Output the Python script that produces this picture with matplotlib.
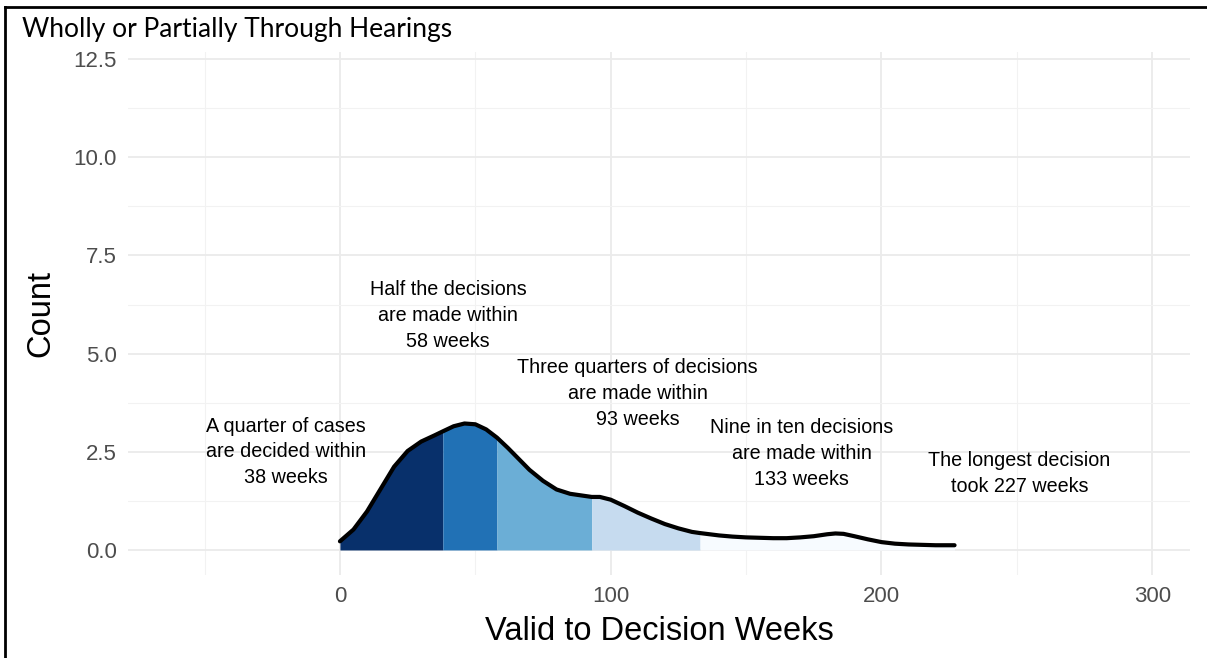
import numpy as np
import matplotlib
matplotlib.use("Agg")
import matplotlib.pyplot as plt
from matplotlib.lines import Line2D

plt.rcParams['font.family'] = ['Liberation Sans', 'DejaVu Sans']

# density curve (count scale)
weeks = [0, 5, 10, 15, 20, 25, 30, 35, 38, 42, 46, 50, 54, 58, 62, 66, 70, 75, 80, 85,
         90, 93, 96, 100, 105, 110, 115, 120, 125, 130, 133, 140, 145, 150, 155, 160,
         165, 170, 175, 180, 183, 186, 190, 195, 200, 205, 210, 215, 220, 227]
count = [0.22, 0.52, 0.98, 1.55, 2.12, 2.52, 2.76, 2.92, 3.02, 3.15, 3.22, 3.2, 3.07, 2.86,
         2.6, 2.32, 2.04, 1.76, 1.54, 1.43, 1.38, 1.35, 1.35, 1.28, 1.12, 0.95, 0.8, 0.66,
         0.55, 0.46, 0.43, 0.37, 0.34, 0.32, 0.31, 0.3, 0.3, 0.32, 0.35, 0.4, 0.42, 0.41,
         0.35, 0.27, 0.2, 0.16, 0.14, 0.13, 0.12, 0.12]

# quantile breaks (weeks)
breaks = [0, 38, 58, 93, 133, 227]
fill_colours = ['#08306B', '#2171B5', '#6BAED6', '#C6DBEF', '#F7FBFF']

labels = ["A quarter of cases\nare decided within\n38 weeks",
          "Half the decisions\nare made within\n58 weeks",
          "Three quarters of decisions\nare made within\n93 weeks",
          "Nine in ten decisions\nare made within\n133 weeks",
          "The longest decision\ntook 227 weeks"]
label_x = [-20, 40, 110, 170.5, 251]
label_y = [2.5, 5.97, 3.98, 2.45, 1.94]

x = np.array(weeks, dtype=float)
y = np.array(count, dtype=float)

fig = plt.figure(figsize=(12.07, 6.58), dpi=100)
ax = fig.add_axes([0.106, 0.126, 0.880, 0.795])

for i in range(len(fill_colours)):
    m = (x >= breaks[i]) & (x <= breaks[i + 1])
    ax.fill_between(x[m], 0, y[m], color=fill_colours[i], linewidth=0, zorder=2)

ax.plot(x, y, color='black', linewidth=3.0, solid_capstyle='round',
        solid_joinstyle='round', zorder=3)

for t, lx, ly in zip(labels, label_x, label_y):
    ax.text(lx, ly, t, ha='center', va='center', fontsize=14.2, linespacing=1.45,
            color='black', zorder=4)

ax.set_xlim(-78.3, 314)
ax.set_ylim(-0.64, 12.68)
ax.set_xticks([0, 100, 200, 300])
ax.set_xticks([-50, 50, 150, 250], minor=True)
ax.set_yticks([0, 2.5, 5, 7.5, 10, 12.5])
ax.set_yticklabels(['0.0', '2.5', '5.0', '7.5', '10.0', '12.5'])
ax.set_yticks([1.25, 3.75, 6.25, 8.75, 11.25], minor=True)
ax.grid(True, which='major', color='#EBEBEB', linewidth=1.3, zorder=0)
ax.grid(True, which='minor', color='#F2F2F2', linewidth=0.8, zorder=0)
ax.set_axisbelow(True)
for s in ax.spines.values():
    s.set_visible(False)
ax.tick_params(which='both', length=0, labelsize=16, labelcolor='#4D4D4D', pad=8)

ax.set_xlabel('Valid to Decision Weeks', fontsize=23.5, labelpad=6)
ax.set_ylabel('Count', fontsize=23.5, labelpad=12)

fig.text(22 / 1207, 1 - 30 / 658, 'Wholly or Partially Through Hearings',
         family=['Lato', 'DejaVu Sans'], fontsize=19, va='center', ha='left')

# frame round the picture (left and top edges)
fig.add_artist(Line2D([5 / 1207, 5 / 1207], [0, 1 - 7 / 658], transform=fig.transFigure,
                      color='black', linewidth=2))
fig.add_artist(Line2D([5 / 1207, 1], [1 - 7 / 658, 1 - 7 / 658], transform=fig.transFigure,
                      color='black', linewidth=2))

fig.savefig('out.png', dpi=100)
